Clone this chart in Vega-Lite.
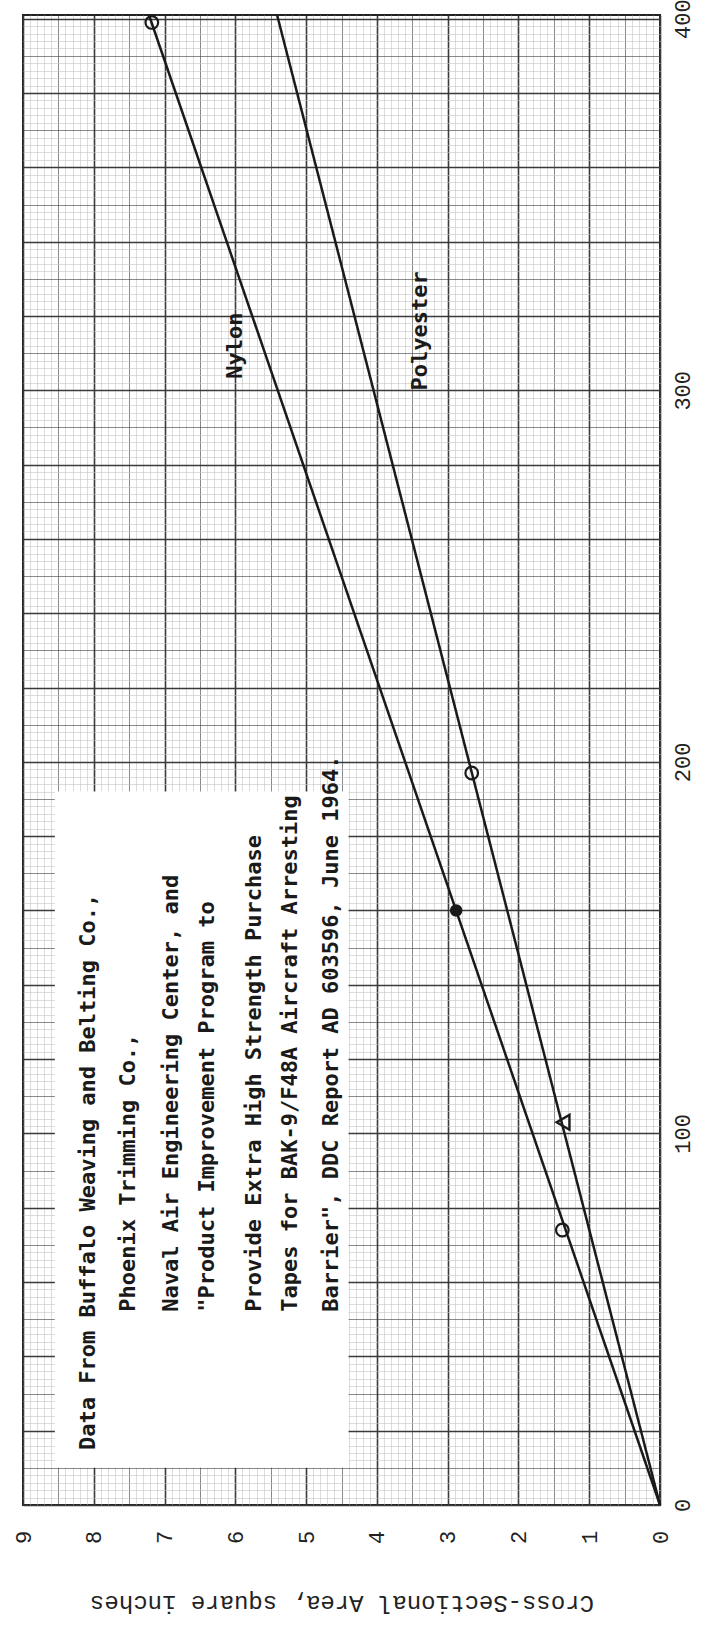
{
  "$schema": "https://vega.github.io/schema/vega-lite/v6.json",
  "width": 637,
  "height": 1490,
  "autosize": "none",
  "padding": {"left": 23, "top": 15, "right": 59, "bottom": 120},
  "background": "white",
  "config": {"view": {"stroke": "#222", "strokeWidth": 2}, "font": "Liberation Mono"},
  "datasets": {
    "lines": [
      {"series": "Nylon", "area": 0, "load": 0},
      {"series": "Nylon", "area": 7.22, "load": 401},
      {"series": "Polyester", "area": 0, "load": 0},
      {"series": "Polyester", "area": 5.41, "load": 401}
    ],
    "points": [
      {"marker": "open", "area": 1.38, "load": 74},
      {"marker": "open", "area": 2.66, "load": 197},
      {"marker": "open", "area": 7.18, "load": 399},
      {"marker": "filled", "area": 2.88, "load": 160},
      {"marker": "triangle", "area": 1.37, "load": 103}
    ],
    "box": [{"a1": 4.4, "a2": 8.55, "l1": 10, "l2": 192}],
    "notes": [
      {"text": "Data From Buffalo Weaving and Belting Co.,", "area": 8.08, "load": 14.8},
      {"text": "Phoenix Trimming Co.,", "area": 7.51, "load": 52},
      {"text": "Naval Air Engineering Center, and", "area": 6.91, "load": 52},
      {"text": "\"Product Improvement Program to", "area": 6.40, "load": 52},
      {"text": "Provide Extra High Strength Purchase", "area": 5.73, "load": 52},
      {"text": "Tapes for BAK-9/F48A Aircraft Arresting", "area": 5.23, "load": 52},
      {"text": "Barrier\", DDC Report AD 603596, June 1964.", "area": 4.65, "load": 52}
    ],
    "labels": [
      {"text": "Nylon", "area": 6.0, "load": 312},
      {"text": "Polyester", "area": 3.39, "load": 316}
    ]
  },
  "layer": [
    {
      "data": {"name": "lines"},
      "mark": {"type": "line", "color": "#1a1a1a", "strokeWidth": 2.5},
      "encoding": {
        "x": {
          "field": "area", "type": "quantitative",
          "scale": {"domain": [0, 9], "reverse": true, "nice": false, "zero": false},
          "axis": {
            "orient": "bottom", "tickCount": 90, "grid": true, "ticks": false, "domain": false,
            "gridColor": {"condition": {"test": "round(datum.value*10)%5===0", "value": "#3a3a3a"}, "value": "#c4c4c4"},
            "gridWidth": {"condition": {"test": "round(datum.value*10)%10===0", "value": 1.6}, "value": 0.6},
            "labelExpr": "round(datum.value*10)%10===0 ? format(datum.value,'d') : ''",
            "labelAngle": 270, "labelAlign": "center", "labelBaseline": "middle",
            "labelPadding": 32, "labelFontSize": 22, "labelColor": "#222",
            "labelOverlap": false, "labelFlush": false, "labelBound": false,
            "title": "Cross-Sectional Area, square inches",
            "titleAngle": 180, "titleFontSize": 24, "titleFontWeight": "normal", "titleColor": "#222",
            "titleBaseline": "middle", "titleAlign": "center", "titleX": 318.5, "titleY": 97
          }
        },
        "y": {
          "field": "load", "type": "quantitative",
          "scale": {"domain": [0, 401], "nice": false, "zero": false},
          "axis": {
            "orient": "right", "tickCount": 200, "grid": true, "ticks": false, "domain": false,
            "gridColor": {"condition": {"test": "round(datum.value)%10===0", "value": "#3a3a3a"}, "value": "#c4c4c4"},
            "gridWidth": {"condition": {"test": "round(datum.value)%20===0", "value": 1.5}, "value": 0.6},
            "labelExpr": "round(datum.value)%100===0 ? format(datum.value,'d') : ''",
            "labelAngle": 270, "labelAlign": "center", "labelBaseline": "middle",
            "labelPadding": 22, "labelFontSize": 22, "labelColor": "#222",
            "labelOverlap": false, "labelFlush": false, "labelBound": false,
            "title": null
          }
        },
        "detail": {"field": "series", "type": "nominal"}
      }
    },
    {
      "data": {"name": "box"},
      "mark": {"type": "rect", "fill": "white"},
      "encoding": {
        "x": {"field": "a1", "type": "quantitative"},
        "x2": {"field": "a2"},
        "y": {"field": "l1", "type": "quantitative"},
        "y2": {"field": "l2"}
      }
    },
    {
      "data": {"name": "points"},
      "transform": [{"filter": "datum.marker === 'open'"}],
      "mark": {"type": "point", "shape": "circle", "filled": false, "size": 160, "stroke": "#1a1a1a", "strokeWidth": 2.2, "opacity": 1},
      "encoding": {
        "x": {"field": "area", "type": "quantitative"},
        "y": {"field": "load", "type": "quantitative"}
      }
    },
    {
      "data": {"name": "points"},
      "transform": [{"filter": "datum.marker === 'filled'"}],
      "mark": {"type": "point", "shape": "circle", "filled": true, "size": 110, "fill": "#1a1a1a", "stroke": "#1a1a1a", "opacity": 1},
      "encoding": {
        "x": {"field": "area", "type": "quantitative"},
        "y": {"field": "load", "type": "quantitative"}
      }
    },
    {
      "data": {"name": "points"},
      "transform": [{"filter": "datum.marker === 'triangle'"}],
      "mark": {"type": "point", "shape": "triangle-left", "filled": false, "size": 220, "stroke": "#1a1a1a", "strokeWidth": 2.4, "opacity": 1},
      "encoding": {
        "x": {"field": "area", "type": "quantitative"},
        "y": {"field": "load", "type": "quantitative"}
      }
    },
    {
      "data": {"name": "notes"},
      "mark": {"type": "text", "angle": 270, "align": "left", "baseline": "middle", "font": "DejaVu Sans Mono", "fontSize": 22, "fontWeight": "bold", "color": "#1a1a1a"},
      "encoding": {
        "x": {"field": "area", "type": "quantitative"},
        "y": {"field": "load", "type": "quantitative"},
        "text": {"field": "text"}
      }
    },
    {
      "data": {"name": "labels"},
      "mark": {"type": "text", "angle": 270, "align": "center", "baseline": "middle", "font": "DejaVu Sans Mono", "fontSize": 22, "fontWeight": "bold", "color": "#1a1a1a"},
      "encoding": {
        "x": {"field": "area", "type": "quantitative"},
        "y": {"field": "load", "type": "quantitative"},
        "text": {"field": "text"}
      }
    }
  ]
}
